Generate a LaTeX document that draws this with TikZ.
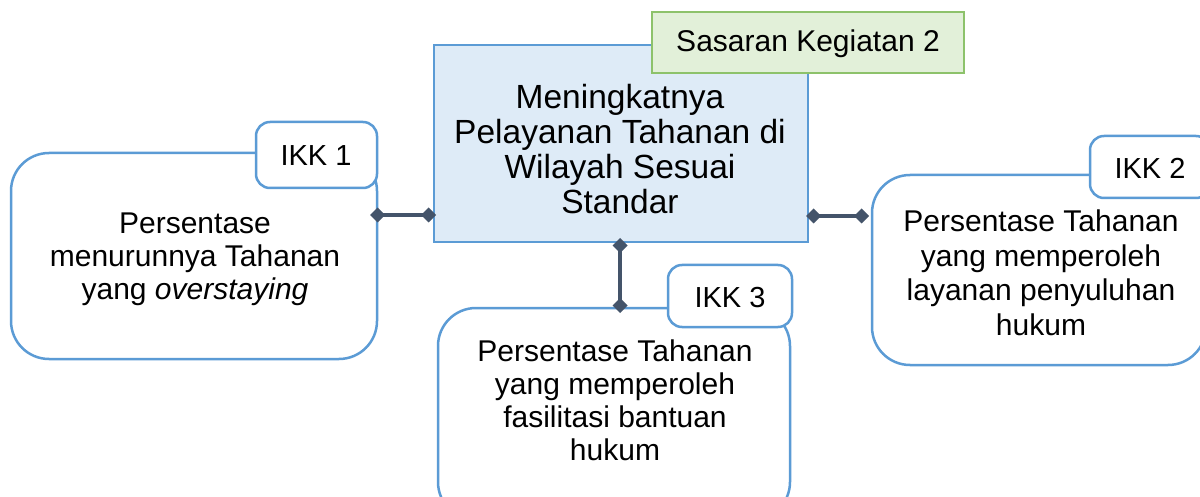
\documentclass[tikz,border=0pt]{standalone}
\usepackage{fontspec}
\setmainfont{Liberation Sans}
\usetikzlibrary{arrows.meta}
\definecolor{bblue}{HTML}{5B9BD5}
\definecolor{mfill}{HTML}{DEEBF7}
\definecolor{gborder}{HTML}{8DC26B}
\definecolor{gfill}{HTML}{E2F0D9}
\definecolor{conncol}{HTML}{44546A}
\tikzset{
  bigbox/.style={draw=bblue, line width=2.5pt, fill=white, rounded corners=38pt},
  tabbox/.style={draw=bblue, line width=2.5pt, fill=white, rounded corners=14pt},
  mainbox/.style={draw=bblue, line width=2.5pt, fill=mfill},
  sasbox/.style={draw=gborder, line width=2pt, fill=gfill},
  txt/.style={align=center, font=\fontsize{30}{33}\selectfont, inner sep=0pt},
  conn/.style={draw=conncol, line width=4.5pt, {Diamond[length=15pt,width=15pt]}-{Diamond[length=15pt,width=15pt]}}
}
\begin{document}
\begin{tikzpicture}[x=1pt,y=-1pt]
\useasboundingbox (0,0) rectangle (1200,497);
\fill[white] (0,0) rectangle (1200,497);
\clip (0,0) rectangle (1200,497);
% left
\draw[bigbox] (11,153) rectangle (377,359);
\node[txt] (lt) at (195,259) {Persentase\\menurunnya Tahanan\\yang \textit{overstaying}};
\draw[tabbox] (256,122) rectangle (377,188);
\node[txt, font=\fontsize{29}{33}\selectfont] (ikk1) at (316,156) {IKK 1};
% right
\draw[bigbox] (872,175) rectangle (1206,365);
\node[txt, font=\fontsize{30}{34.5}\selectfont] (rt) at (1041,273) {Persentase Tahanan\\yang memperoleh\\layanan penyuluhan\\hukum};
\draw[tabbox] (1090,136) rectangle (1210,198);
\node[txt, font=\fontsize{29}{33}\selectfont] (ikk2) at (1150,168) {IKK 2};
% bottom
\draw[bigbox] (438,308) rectangle (790,520);
\node[txt] (bt) at (615,400) {Persentase Tahanan\\yang memperoleh\\fasilitasi bantuan\\hukum};
\draw[tabbox] (668,265) rectangle (792,327);
\node[txt, font=\fontsize{29}{33}\selectfont] (ikk3) at (730,298) {IKK 3};
% main
\draw[mainbox] (434,45) rectangle (808,242);
\node[txt, font=\fontsize{33.5}{35.3}\selectfont] (mt) at (620,149) {Meningkatnya\\Pelayanan Tahanan di\\Wilayah Sesuai\\Standar};
\node[sasbox, minimum width=312pt, minimum height=61pt, inner sep=0pt] (sas) at (808,42.5) {};
\node[txt] (sast) at (808,44) {Sasaran Kegiatan 2};
% connectors
\coordinate (c1a) at (370,215); \coordinate (c1b) at (436,215);
\coordinate (c2a) at (620,238); \coordinate (c2b) at (620,313);
\coordinate (c3a) at (806,216); \coordinate (c3b) at (869,216);
\draw[conn] (c1a) -- (c1b);
\draw[conn] (c2a) -- (c2b);
\draw[conn] (c3a) -- (c3b);
\end{tikzpicture}
\end{document}
